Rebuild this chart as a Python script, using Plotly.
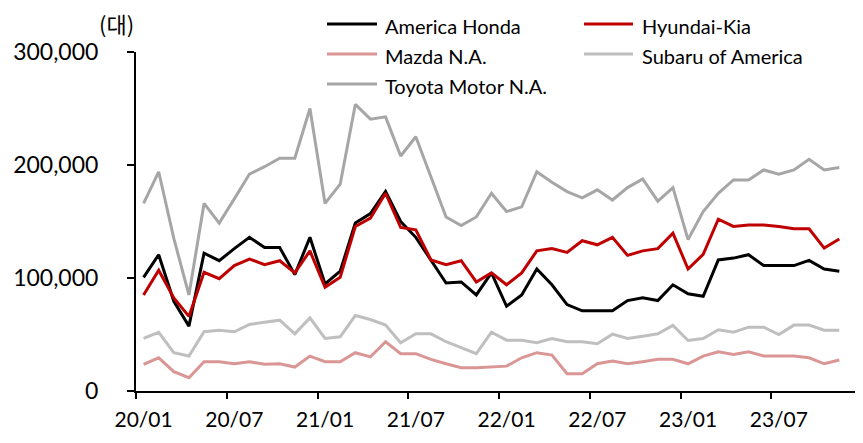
import plotly.graph_objects as go

months = ["20/01","20/02","20/03","20/04","20/05","20/06","20/07","20/08","20/09","20/10","20/11","20/12",
          "21/01","21/02","21/03","21/04","21/05","21/06","21/07","21/08","21/09","21/10","21/11","21/12",
          "22/01","22/02","22/03","22/04","22/05","22/06","22/07","22/08","22/09","22/10","22/11","22/12",
          "23/01","23/02","23/03","23/04","23/05","23/06","23/07","23/08","23/09","23/10","23/11"]

america_honda = [100600,120600,79400,57400,122000,115300,126000,136000,127000,127000,103000,136000,
                 94700,106000,148600,157000,176500,150000,136000,115500,95600,96500,85000,104500,
                 75000,85000,108000,94000,76500,71000,71000,71000,80000,82400,80000,94000,
                 86000,83800,116000,117600,120600,111000,111000,111000,115600,108000,106000]
hyundai_kia = [85000,106800,82400,66000,105000,99400,111000,116800,111800,115300,104500,124000,
               91800,100600,145600,153000,175000,144700,142700,116000,111800,115300,96500,104500,
               94000,104500,124000,126000,122700,133000,129400,136000,120000,124000,126000,139700,
               108000,121000,152000,145600,147000,147000,145600,143600,143600,126500,134500]
mazda_na = [23600,29400,17100,11800,25900,25900,24100,25900,23600,24100,21200,30900,
            25900,25900,33900,30200,43600,33000,33000,28000,24100,20600,20600,21200,
            22000,29400,33900,31800,15300,15300,24100,26500,24100,25900,28000,28000,
            24100,30900,34700,32400,34700,30900,30900,30900,29400,24100,27400]
subaru_of_america = [46500,52000,33900,30900,52400,53800,52400,58900,60900,62700,50600,64700,
                     46500,48000,66800,63300,58300,42700,50600,50600,43600,38300,33000,52000,
                     45000,45000,42700,46500,43600,43600,41800,50300,46500,48500,50600,58000,
                     44700,46500,54200,52000,56500,56500,50000,58300,58300,53800,53800]
toyota_motor_na = [166000,194000,135000,85000,166000,148600,170000,192000,198500,206000,206000,250000,
                   166000,183000,253600,240600,242600,208000,225000,189700,154000,146500,154000,175000,
                   158800,163000,194000,184700,176500,171000,178000,169000,180000,187700,168000,180000,
                   134000,158800,175000,186800,186800,195600,191800,195600,205000,195600,197700]

series_names = ["America Honda", "Hyundai-Kia", "Mazda N.A.", "Subaru of America", "Toyota Motor N.A."]
series_values = [america_honda, hyundai_kia, mazda_na, subaru_of_america, toyota_motor_na]
tick_labels = ["20/01", "20/07", "21/01", "21/07", "22/01", "22/07", "23/01", "23/07"]
y_ticks = [0, 100000, 200000, 300000]
unit_label = "(대)"

colors = ["#000000", "#C00000", "#DA9694", "#BFBFBF", "#A6A6A6"]

# page offset of the plot div (default body margin)
OFF = 8
W, H = 855, 435
L, R, T, B = 128, 1, 44, 52
PW, PH = W - L - R, H - T - B

def px(xp):
    """page x pixel -> paper coordinate"""
    return (xp - OFF - L) / PW

def py(yp):
    """page y pixel -> paper coordinate"""
    return (H - B - (yp - OFF)) / PH

x_idx = list(range(len(months)))
n_slots = 48

fig = go.Figure()
for name, vals, col in zip(series_names, series_values, colors):
    fig.add_trace(go.Scatter(x=x_idx, y=vals, mode="lines", name=name,
                             line=dict(color=col, width=3), showlegend=False))

# invisible trace to activate the label axis
fig.add_trace(go.Scatter(x=[months.index(t) for t in tick_labels], y=[None]*len(tick_labels),
                         xaxis="x2", showlegend=False, hoverinfo="skip"))

font_main = "Lato, 'Noto Sans', sans-serif"

fig.update_layout(
    width=W, height=H,
    margin=dict(l=L, r=R, t=T, b=B, autoexpand=False),
    plot_bgcolor="white", paper_bgcolor="white",
    font=dict(family=font_main, color="#000000", size=20),
    xaxis=dict(range=[-0.5, n_slots - 0.5], tickmode="array",
               tickvals=[v - 0.5 for v in range(0, n_slots + 1, 6)],
               showticklabels=False, ticks="outside", ticklen=6, tickwidth=2, tickcolor="black",
               showline=True, linecolor="black", linewidth=2, showgrid=False, zeroline=False),
    xaxis2=dict(range=[-0.5, n_slots - 0.5], overlaying="x", side="bottom", tickmode="array",
                tickvals=[months.index(t) for t in tick_labels], ticktext=tick_labels,
                ticks="", showline=False, showgrid=False, zeroline=False,
                tickfont=dict(size=21, family=font_main), ticklabelstandoff=14),
    yaxis=dict(range=[0, 300000], tickmode="array", tickvals=y_ticks,
               ticktext=[f"{v:,}" for v in y_ticks],
               ticks="outside", ticklen=7, tickwidth=2, tickcolor="black",
               showline=True, linecolor="black", linewidth=2, showgrid=False, zeroline=False,
               tickfont=dict(size=23, family=font_main), ticklabelstandoff=24),
)

fig.add_annotation(text=unit_label, x=px(116), y=py(23), xref="paper", yref="paper",
                   showarrow=False, xanchor="center", yanchor="middle",
                   font=dict(size=22, family="'Noto Sans CJK KR', sans-serif", color="black"))

# legend (two columns, three rows)
leg_cols = [(327, 377, 383), (584, 633, 640)]
leg_rows = [24, 54, 84]
for k, (name, col) in enumerate(zip(series_names, colors)):
    r, c = divmod(k, 2)
    x0, x1, xt = leg_cols[c]
    yy = leg_rows[r]
    fig.add_shape(type="line", xref="paper", yref="paper", x0=px(x0), x1=px(x1),
                  y0=py(yy), y1=py(yy), line=dict(color=col, width=3))
    fig.add_annotation(text=name, x=px(xt), y=py(yy + 2), xref="paper", yref="paper",
                       showarrow=False, xanchor="left", yanchor="middle",
                       font=dict(size=20, family=font_main, color="black"))

fig.write_html("out.html")
